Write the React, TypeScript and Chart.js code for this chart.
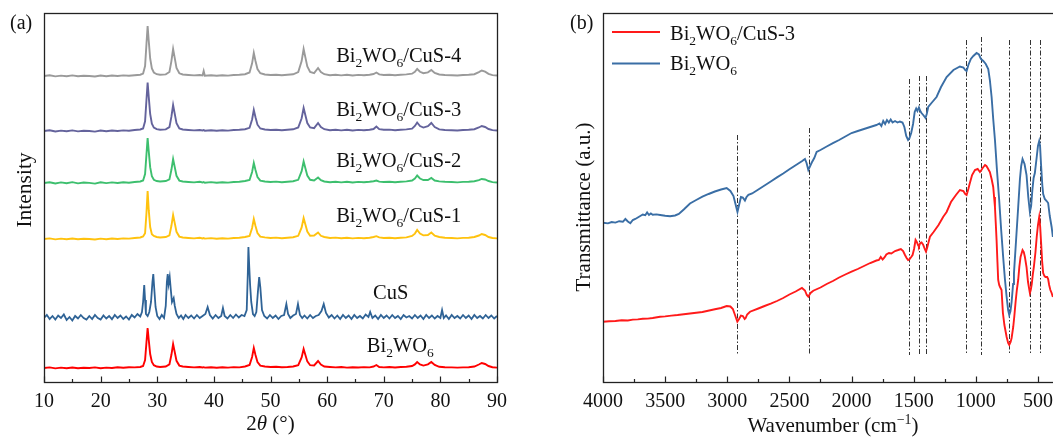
import React, { useEffect, useRef } from "react";
import { Chart, registerables } from "chart.js";

Chart.register(...registerables);

const FONT = "'Liberation Serif', 'Times New Roman', Times, serif";

// ---------- Panel (a): XRD ----------
const twoTheta = [
  10, 11, 12, 13, 14, 15, 16, 17, 18, 19, 20, 21, 22, 23, 24, 25, 26, 27,
  27.5, 27.85, 28.1, 28.3, 28.5, 28.75, 29.05, 29.4, 29.9, 30.5, 31.5,
  32.15, 32.5, 32.8, 33.1, 33.4, 33.9, 34.5, 35.5, 36.5, 37.5,
  38.0, 38.2, 38.4, 39.5, 40.5, 41.5, 42.5, 43.5, 44.5, 45.5,
  46.3, 46.75, 47.05, 47.35, 47.7, 48.2, 49, 50, 51, 52,
  53, 54, 54.9, 55.5, 55.85, 56.15, 56.5, 57, 57.7, 58.4,
  58.9, 59.5, 60.5, 61.5, 62.5, 63.5, 64.5, 65.5, 66.5, 67.5,
  68.2, 68.7, 69.2, 70, 71, 72, 73, 74, 75, 75.5,
  75.9, 76.4, 77, 77.8, 78.4, 79, 79.8, 80.8, 82, 83,
  84, 85, 86, 86.8, 87.3, 87.9, 88.5, 89.2, 90,
];

const bwoIntensity = [
  14, 14.6, 13.6, 14.4, 13.8, 14.5, 13.7, 14.3, 14, 14.6, 13.8, 14.4, 14, 14.7, 14.2, 14.8, 14.6, 15,
  16, 22, 40, 54, 42, 28, 20, 16.8, 15.5, 15, 15.5,
  17.6, 27.2, 38, 29.6, 21.2, 16.4, 15.5, 15, 14.6, 15,
  14.5, 14.8, 14.4, 14.8, 14.3, 14.7, 14.4, 14.9, 14.6, 15.5,
  17, 25, 34, 27, 20, 16.4, 15.5, 15, 15.2, 14.8,
  15, 15.5, 16.8, 24.5, 33, 27.3, 20.6, 16.8, 16.5, 21,
  17.5, 15.5, 15, 14.6, 15, 14.4, 14.8, 14.5, 14.9, 14.6,
  15.5, 17, 15, 14.6, 15, 14.5, 15, 15.2, 16, 17.6,
  20, 17.6, 16.4, 17.6, 20, 17, 15.2, 14.8, 14.6, 14.4,
  14.6, 14.8, 15.5, 17.5, 19, 18, 16, 14.8, 14.4,
];

const cus1Intensity = [
  143, 143.6, 142.6, 143.4, 142.8, 143.5, 142.7, 143.3, 143, 142.5, 143.4, 142.8, 143.5, 143, 143.6, 143.4, 144, 144.5,
  145.5, 148.8, 169.4, 191, 171.8, 155, 147.8, 146, 145, 144.5, 145,
  146.6, 156.2, 167, 158.6, 150.2, 145.4, 144.5, 144, 143.6, 144.2,
  143.5, 143.9, 143.4, 143.9, 143.3, 143.8, 143.4, 144, 144.2, 145,
  146, 154, 163, 156, 149, 145.4, 144.6, 144, 144.4, 143.8,
  144.3, 144.8, 146.2, 154.6, 164, 157.7, 150.4, 146.2, 146.5, 149.5,
  146.2, 145, 144, 144.4, 143.8, 144.2, 143.6, 144.1, 143.7, 144.2,
  145, 145.8, 144.6, 144, 144.3, 143.8, 144.3, 144.6, 146, 148.4,
  152, 148.4, 146.6, 147, 149.5, 146.3, 145, 144.2, 144, 143.6,
  144.1, 144.2, 145, 146.5, 148, 147, 145, 144, 143.6,
];

const cus2Intensity = [
  199, 199.8, 198.5, 199.6, 198.8, 199.9, 198.6, 199.5, 199.1, 198.4, 199.7, 198.9, 199.6, 199, 199.8, 199.3, 200, 200.5,
  201.5, 208, 228, 244, 230.5, 214.8, 205.8, 202.2, 201, 200.5, 201,
  202.6, 212.2, 223, 214.6, 206.2, 201.4, 200.5, 200, 199.6, 200.2,
  199.5, 200, 199.3, 199.9, 199.2, 199.8, 199.4, 200, 200.2, 201,
  202, 210, 219, 212, 205, 201.4, 200.5, 200, 200.4, 199.8,
  200.3, 200.8, 202.2, 210.8, 220.5, 214, 206.5, 202.2, 201.5, 204.5,
  201.8, 200.5, 199.8, 200.3, 199.6, 200.2, 199.5, 200.1, 199.7, 200.2,
  200.8, 201.5, 200.4, 200, 200.3, 199.7, 200.3, 200.6, 201.5, 203.5,
  206.5, 203.5, 202, 202, 204, 201.5, 200.6, 200.2, 200, 199.6,
  200.1, 200.3, 200.8, 201.8, 203, 202.5, 201, 199.9, 199.5,
];

const cus3Intensity = [
  251, 251.7, 250.5, 251.4, 250.8, 251.6, 250.6, 251.3, 251, 250.4, 251.5, 250.8, 251.5, 251, 251.6, 251.2, 252, 252.5,
  253.5, 260.7, 282.5, 299.5, 285, 268, 258.3, 254.4, 252.8, 252.2, 252.6,
  254.9, 265.3, 277, 267.9, 258.8, 253.6, 252.5, 252, 251.6, 252,
  251.5, 251.9, 251.3, 251.8, 251.2, 251.8, 251.4, 252, 252.2, 252.8,
  254.2, 262.5, 272, 264.7, 257.3, 253.5, 252.5, 252, 252.3, 251.8,
  252.2, 252.7, 254.5, 263.7, 274, 267.1, 259, 254.5, 253.8, 259,
  255, 252.8, 251.8, 252.3, 251.6, 252.2, 251.5, 252.1, 251.7, 252.3,
  253, 255.5, 252.8, 252.2, 252.4, 251.8, 252.3, 252.6, 253.3, 256,
  259.5, 256, 254.4, 255.8, 259, 255, 252.6, 252, 251.8, 251.5,
  252, 252.2, 252.8, 254.5, 256, 255, 253, 251.9, 251.5,
];

const cus4Intensity = [
  306, 306.7, 305.6, 306.4, 305.8, 306.6, 305.7, 306.3, 306, 305.5, 306.5, 305.8, 306.5, 306, 306.6, 306.2, 306.8, 307.3,
  308.5, 316, 338.5, 356, 341, 323.5, 313.5, 309.5, 307.8, 307.2, 307.6,
  310, 320.9, 333, 323.6, 314.1, 308.7, 307.5, 307, 306.6, 307,
  306.5, 311, 306.3, 306.8, 306.2, 306.8, 306.4, 307, 307.2, 307.8,
  309.5, 318.7, 329, 321, 312.9, 308.8, 307.5, 307, 307.3, 306.8,
  307.2, 307.7, 310, 320.9, 333, 324.9, 315.5, 310, 308.8, 314,
  310, 307.8, 306.8, 307.3, 306.6, 307.2, 306.5, 307.1, 306.7, 307.3,
  308, 309.5, 307.6, 307, 307.3, 306.8, 307.3, 307.6, 308.3, 310.2,
  313, 310.2, 308.8, 309.6, 312, 309, 307.5, 307, 306.8, 306.5,
  307, 307.2, 307.8, 309.9, 311.5, 310.4, 308.2, 306.9, 306.5,
];

const cusPattern: [number, number][] = [
  [10, 64], [10.5, 67], [11, 63], [11.5, 66], [12, 62.5], [12.5, 66.5], [13, 64], [13.5, 67.5], [14, 62], [14.5, 65],
  [15, 61.5], [15.5, 66], [16, 63.5], [16.5, 67], [17, 64], [17.5, 62.5], [18, 66], [18.5, 63], [19, 67], [19.5, 64],
  [20, 62.5], [20.5, 66.5], [21, 63.5], [21.5, 66], [22, 62.8], [22.5, 67], [23, 64], [23.5, 66.5], [24, 63], [24.5, 65.5],
  [25, 62.5], [25.5, 67], [26, 64.5], [26.5, 68], [27, 65.5], [27.3, 70], [27.5, 80], [27.7, 97], [27.85, 82], [28.0, 68],
  [28.3, 66], [28.6, 70], [28.9, 80], [29.15, 100], [29.3, 108], [29.45, 95], [29.7, 75], [30.0, 66], [30.4, 63], [30.8, 67],
  [31.2, 64], [31.5, 76], [31.7, 100], [31.85, 108], [32.0, 98], [32.2, 105], [32.4, 92], [32.6, 80], [32.9, 84], [33.1, 76],
  [33.4, 68], [33.8, 64], [34.2, 66.5], [34.6, 63], [35, 67], [35.5, 64], [36, 66.5], [36.5, 63.5], [37, 67], [37.5, 64],
  [38, 66], [38.5, 68], [38.9, 75], [39.3, 67], [39.8, 63.5], [40.3, 67], [40.8, 64], [41.3, 66], [41.6, 74], [41.9, 66],
  [42.4, 63.5], [42.9, 67], [43.4, 64], [43.9, 67.5], [44.4, 64.5], [44.9, 67], [45.4, 66], [45.8, 72], [46.0, 110], [46.1, 135],
  [46.25, 115], [46.4, 97], [46.6, 80], [46.9, 68], [47.2, 66], [47.5, 70], [47.8, 92], [48.0, 105], [48.2, 95], [48.5, 72],
  [48.9, 66], [49.4, 63.5], [49.9, 67], [50.4, 64], [50.9, 66.5], [51.4, 63], [51.9, 66], [52.4, 67], [52.8, 78], [53.1, 68],
  [53.5, 64], [54, 66.5], [54.5, 68], [54.85, 78], [55.2, 67], [55.6, 64], [56, 66.5], [56.5, 63.5], [57, 67], [57.5, 64],
  [58, 66], [58.5, 67], [59.0, 71], [59.4, 78], [59.8, 69], [60.3, 64.5], [60.8, 67], [61.3, 63.5], [61.8, 66.5], [62.3, 63],
  [62.8, 67], [63.3, 64], [63.8, 66.5], [64.3, 63], [64.8, 67], [65.3, 64], [65.8, 66], [66.3, 63.5], [66.8, 67.5], [67.3, 65],
  [67.6, 70], [68, 64], [68.5, 66.5], [69, 63], [69.5, 67], [70, 64], [70.5, 66.5], [71, 63.5], [71.5, 67], [72, 64],
  [72.5, 66], [73, 63], [73.5, 67], [74, 64.5], [74.5, 66], [75, 63.5], [75.5, 67], [76, 64], [76.5, 66.5], [77, 63],
  [77.5, 67], [78, 64], [78.5, 66.5], [79, 63.5], [79.5, 66], [80, 64], [80.3, 72], [80.6, 64], [81, 66.5], [81.5, 63],
  [82, 67], [82.5, 64], [83, 66], [83.5, 63.5], [84, 67], [84.5, 64], [85, 66.5], [85.5, 63], [86, 67], [86.5, 64],
  [87, 66], [87.5, 63.5], [88, 67], [88.5, 64], [89, 66.5], [89.5, 63.5], [90, 66],
];

const xrdTicks = [10, 20, 30, 40, 50, 60, 70, 80, 90];
const xrdMinorTicks = [15, 25, 35, 45, 55, 65, 75, 85];

// ---------- Panel (b): FTIR ----------
const ftirBwo: [number, number][] = [
  [4000, 159.3], [3960, 158.6], [3930, 160], [3900, 159.4], [3870, 160.8], [3840, 160.2], [3820, 163], [3800, 160.5],
  [3780, 158.8], [3760, 162], [3740, 163], [3720, 164.5], [3700, 166], [3680, 167.5], [3660, 166.8], [3645, 169.5],
  [3630, 167], [3615, 168.5], [3600, 167.2], [3570, 167.6], [3540, 167], [3500, 166.2], [3460, 165.8], [3420, 166.5],
  [3390, 168], [3350, 172.5], [3300, 178.5], [3250, 182], [3200, 185.3], [3150, 188], [3100, 190.5], [3050, 192.5],
  [3005, 194], [2975, 191], [2950, 186], [2930, 176], [2918, 170], [2905, 177], [2890, 185], [2875, 184.5],
  [2858, 181.5], [2845, 185], [2830, 187.2], [2800, 188.5], [2750, 192.5], [2700, 196.5], [2650, 200.5], [2600, 204.6],
  [2550, 208.5], [2500, 212.7], [2450, 216.8], [2400, 220.8], [2375, 223], [2362, 219], [2348, 212], [2335, 215.5],
  [2320, 219.5], [2300, 224], [2281, 230], [2250, 232], [2200, 235.5], [2150, 238.8], [2100, 242], [2050, 245.5],
  [2000, 249], [1950, 251], [1900, 253], [1850, 255], [1800, 257], [1775, 258.5], [1760, 256], [1745, 261],
  [1730, 258], [1715, 262], [1700, 259.5], [1685, 262.5], [1670, 259.5], [1650, 261], [1630, 259.5], [1611, 260.5],
  [1590, 259.5], [1575, 255], [1560, 246], [1545, 242], [1535, 243.5], [1520, 249], [1505, 258], [1492, 270],
  [1480, 273.5], [1470, 271], [1458, 274.5], [1447, 271], [1437, 269], [1420, 266.5], [1405, 264], [1395, 268],
  [1383, 275], [1350, 280], [1316, 285], [1280, 295], [1235, 305], [1180, 312], [1128, 315.5], [1100, 314.5],
  [1085, 312], [1074, 311], [1060, 317], [1040, 323], [1020, 326], [994, 329], [975, 327.5], [959, 323],
  [940, 321], [920, 318], [900, 313], [887, 302], [873, 285], [860, 263], [846, 242], [830, 212],
  [812, 182], [796, 152], [780, 125], [766, 103], [752, 85], [740, 72], [731, 67], [721, 71],
  [712, 80], [700, 98], [693, 109], [676, 142], [659, 175], [645, 203], [635, 216], [624, 223],
  [608, 218], [592, 207], [578, 185], [565, 170], [555, 176], [545, 192], [535, 204], [525, 209],
  [510, 225], [500, 236], [490, 241], [483, 236], [475, 217], [465, 197], [458, 188], [445, 183],
  [430, 181], [418, 179], [405, 166], [390, 155], [380, 145],
];

const ftirComposite: [number, number][] = [
  [4000, 60.3], [3950, 60.8], [3900, 61], [3850, 61.8], [3800, 61.5], [3760, 62.4], [3720, 62.6], [3680, 63.2],
  [3640, 63.4], [3600, 64], [3541, 65.3], [3500, 65.6], [3450, 66.4], [3400, 67], [3300, 68.5], [3200, 70],
  [3100, 72.8], [3050, 74], [3005, 76], [2975, 75.5], [2955, 73], [2935, 66], [2919, 60.3], [2905, 63],
  [2890, 66.5], [2875, 66], [2860, 63], [2852, 64], [2840, 67.5], [2817, 70.3], [2750, 73.5], [2700, 76],
  [2650, 78.3], [2600, 81], [2550, 84], [2500, 87.5], [2450, 90.5], [2399, 94], [2375, 91.5], [2360, 87],
  [2348, 85.3], [2330, 89], [2308, 91.3], [2250, 94.5], [2200, 98], [2150, 101], [2100, 104.5], [2050, 107.5],
  [2000, 110.3], [1950, 113], [1900, 116], [1850, 119], [1800, 121.5], [1780, 122], [1765, 125], [1750, 122.5],
  [1735, 124.5], [1720, 127.5], [1699, 129], [1680, 128.5], [1650, 131], [1625, 132], [1603, 133], [1585, 131],
  [1570, 127], [1557, 124], [1545, 122], [1535, 122.5], [1520, 125], [1509, 127], [1497, 133], [1485, 142],
  [1475, 140], [1465, 137], [1458, 135.5], [1447, 139], [1437, 139.5], [1425, 137.5], [1410, 133], [1401, 130.5],
  [1392, 134], [1380, 140], [1369, 145.3], [1340, 150], [1300, 157], [1262, 165.3], [1235, 170], [1200, 180],
  [1160, 187], [1128, 192], [1100, 191], [1085, 188], [1074, 187], [1060, 193], [1050, 198], [1030, 207],
  [1007, 212], [985, 213], [967, 210], [955, 212], [945, 214], [926, 217], [915, 216], [905, 214],
  [887, 210], [873, 203], [860, 195], [853, 185], [846, 175], [840, 160], [833, 142], [826, 120],
  [820, 102], [812, 97], [805, 95], [793, 92], [782, 69], [770, 57], [752, 45], [740, 39],
  [731, 37], [720, 40], [712, 44], [699, 55], [690, 66], [680, 80], [670, 92], [659, 102],
  [650, 115], [640, 125], [624, 132], [614, 130], [605, 125], [592, 115], [580, 100], [565, 89],
  [558, 92], [550, 98], [541, 108], [533, 115], [520, 130], [510, 145], [500, 157], [490, 165],
  [482, 155], [475, 140], [466, 120], [458, 109], [448, 106], [440, 105], [426, 105], [418, 103],
  [410, 97], [400, 92], [390, 89], [380, 85],
];

const ftirTicks = [4000, 3500, 3000, 2500, 2000, 1500, 1000, 500];
const ftirMinorTicks = [3750, 3250, 2750, 2250, 1750, 1250, 750];
const bandCenters = [2920, 2345, 1538, 1458, 1401, 1080, 959, 730, 565, 484];
const bandTops = [247, 254, 303, 306, 306, 342, 345, 342, 342, 342];
const bandBottom = 27;

// ---------- text helpers ----------
type Seg = { t: string; k?: "sub" | "sup" | "it" };

function segFont(s: Seg, size: number) {
  if (s.k === "sub" || s.k === "sup") return `${(size * 0.66).toFixed(1)}px ${FONT}`;
  if (s.k === "it") return `italic ${size}px ${FONT}`;
  return `${size}px ${FONT}`;
}

function drawRich(ctx: CanvasRenderingContext2D, segs: Seg[], x: number, y: number, size: number, align: "left" | "center") {
  let w = 0;
  for (const s of segs) {
    ctx.font = segFont(s, size);
    w += ctx.measureText(s.t).width;
  }
  let cx = align === "center" ? x - w / 2 : x;
  ctx.textAlign = "left";
  ctx.textBaseline = "alphabetic";
  for (const s of segs) {
    ctx.font = segFont(s, size);
    const dy = s.k === "sub" ? size * 0.24 : s.k === "sup" ? -size * 0.4 : 0;
    ctx.fillText(s.t, cx, y + dy);
    cx += ctx.measureText(s.t).width;
  }
}

const bwoSegs: Seg[] = [{ t: "Bi" }, { t: "2", k: "sub" }, { t: "WO" }, { t: "6", k: "sub" }];
const compSegs = (n: string): Seg[] => [...bwoSegs, { t: "/CuS-" + n }];

function drawFrame(chart: any, major: number[], minor: number[]) {
  const { ctx, chartArea: a, scales } = chart;
  const x = scales.x;
  ctx.save();
  ctx.strokeStyle = "#222";
  ctx.lineWidth = 1.3;
  const l = Math.round(a.left) + 0.5, t = Math.round(a.top) + 0.5;
  const r = Math.round(a.right) + 0.5, b = Math.round(a.bottom) + 0.5;
  ctx.strokeRect(l, t, r - l, b - t);
  ctx.lineWidth = 1.2;
  ctx.beginPath();
  for (const v of major) {
    const px = Math.round(x.getPixelForValue(v)) + 0.5;
    ctx.moveTo(px, b);
    ctx.lineTo(px, b - 6);
  }
  for (const v of minor) {
    const px = Math.round(x.getPixelForValue(v)) + 0.5;
    ctx.moveTo(px, b);
    ctx.lineTo(px, b - 3.5);
  }
  ctx.stroke();
  ctx.fillStyle = "#111";
  ctx.font = `20px ${FONT}`;
  ctx.textAlign = "center";
  ctx.textBaseline = "alphabetic";
  for (const v of major) ctx.fillText(String(v), x.getPixelForValue(v), b + 24);
  ctx.restore();
}

function drawYTitle(ctx: CanvasRenderingContext2D, segs: Seg[], x: number, y: number, size: number) {
  ctx.save();
  ctx.translate(x, y);
  ctx.rotate(-Math.PI / 2);
  drawRich(ctx, segs, 0, 0, size, "center");
  ctx.restore();
}

const xrdLabels: { segs: Seg[]; x: number; y: number }[] = [
  { segs: compSegs("4"), x: 61.6, y: 320 },
  { segs: compSegs("3"), x: 61.6, y: 266 },
  { segs: compSegs("2"), x: 61.6, y: 215 },
  { segs: compSegs("1"), x: 61.6, y: 160 },
  { segs: [{ t: "CuS" }], x: 68.1, y: 83 },
  { segs: bwoSegs, x: 67.0, y: 30 },
];

const xrdPlugin = {
  id: "xrdDecor",
  afterDraw(chart: any) {
    const { ctx, chartArea: a, scales } = chart;
    drawFrame(chart, xrdTicks, xrdMinorTicks);
    ctx.save();
    ctx.fillStyle = "#111";
    for (const lb of xrdLabels) {
      drawRich(ctx, lb.segs, scales.x.getPixelForValue(lb.x), scales.y.getPixelForValue(lb.y), 20.5, "left");
    }
    drawRich(ctx, [{ t: "(a)" }], 10, 29, 20, "left");
    drawRich(ctx, [{ t: "2" }, { t: "θ", k: "it" }, { t: " (°)" }], (a.left + a.right) / 2, a.bottom + 48, 21, "center");
    drawYTitle(ctx, [{ t: "Intensity" }], 31, 190, 21.5);
    ctx.restore();
  },
};

const ftirPlugin = {
  id: "ftirDecor",
  beforeDatasetsDraw(chart: any) {
    const { ctx, scales } = chart;
    ctx.save();
    ctx.strokeStyle = "#333";
    ctx.lineWidth = 1;
    ctx.setLineDash([5, 2, 1.5, 2]);
    bandCenters.forEach((w, i) => {
      const px = Math.round(scales.x.getPixelForValue(w)) + 0.5;
      ctx.beginPath();
      ctx.moveTo(px, scales.y.getPixelForValue(bandTops[i]));
      ctx.lineTo(px, scales.y.getPixelForValue(bandBottom));
      ctx.stroke();
    });
    ctx.restore();
  },
  afterDraw(chart: any) {
    const { ctx, chartArea: a } = chart;
    drawFrame(chart, ftirTicks, ftirMinorTicks);
    ctx.save();
    ctx.fillStyle = "#111";
    drawRich(ctx, [{ t: "(b)" }], 30, 29, 20, "left");
    // legend
    ctx.lineWidth = 2;
    ctx.strokeStyle = "#ff1a1a";
    ctx.beginPath();
    ctx.moveTo(72, 32);
    ctx.lineTo(120, 32);
    ctx.stroke();
    ctx.strokeStyle = "#3a6ea5";
    ctx.beginPath();
    ctx.moveTo(72, 63.5);
    ctx.lineTo(120, 63.5);
    ctx.stroke();
    drawRich(ctx, compSegs("3"), 130, 40, 20.5, "left");
    drawRich(ctx, bwoSegs, 130, 70, 20.5, "left");
    drawRich(ctx, [{ t: "Wavenumber (cm" }, { t: "−1", k: "sup" }, { t: ")" }], 293, a.bottom + 50, 21, "center");
    drawYTitle(ctx, [{ t: "Transmittance (a.u.)" }], 50, 207, 21);
    ctx.restore();
  },
};

function lineDs(data: { x: number; y: number }[], color: string, width = 1.9) {
  return {
    data,
    borderColor: color,
    backgroundColor: color,
    borderWidth: width,
    pointRadius: 0,
    tension: 0,
    fill: false,
  };
}

const fromGrid = (ys: number[]) => twoTheta.map((x, i) => ({ x, y: ys[i] }));
const fromPairs = (p: [number, number][]) => p.map(([x, y]) => ({ x, y }));

export default function App() {
  const refA = useRef<HTMLCanvasElement>(null);
  const refB = useRef<HTMLCanvasElement>(null);

  useEffect(() => {
    const common = {
      animation: false as const,
      responsive: false,
      devicePixelRatio: 1,
      events: [] as any[],
      plugins: { legend: { display: false }, tooltip: { enabled: false }, title: { display: false } },
    };
    const chartA = new Chart(refA.current!, {
      type: "line",
      data: {
        datasets: [
          lineDs(fromGrid(bwoIntensity), "#ff0000"),
          lineDs(fromPairs(cusPattern), "#2f6396", 1.8),
          lineDs(fromGrid(cus1Intensity), "#ffc20e"),
          lineDs(fromGrid(cus2Intensity), "#3dbf6e"),
          lineDs(fromGrid(cus3Intensity), "#64639c"),
          lineDs(fromGrid(cus4Intensity), "#9a9a9a"),
        ],
      },
      options: {
        ...common,
        layout: { padding: { left: 44, top: 13, right: 43, bottom: 57 } },
        scales: {
          x: { type: "linear", min: 10, max: 90, display: false },
          y: { type: "linear", min: 0, max: 369, display: false },
        },
      },
      plugins: [xrdPlugin],
    } as any);

    const chartB = new Chart(refB.current!, {
      type: "line",
      data: {
        datasets: [
          lineDs(fromPairs(ftirBwo), "#3a6ea5", 1.9),
          lineDs(fromPairs(ftirComposite), "#ff1a1a", 1.9),
        ],
      },
      options: {
        ...common,
        layout: { padding: { left: 63, top: 13, right: 13.4, bottom: 57 } },
        scales: {
          x: { type: "linear", min: 350, max: 4000, reverse: true, display: false },
          y: { type: "linear", min: 0, max: 369, display: false },
        },
      },
      plugins: [ftirPlugin],
    } as any);

    return () => {
      chartA.destroy();
      chartB.destroy();
    };
  }, []);

  return (
    <div
      style={{
        position: "fixed",
        left: 0,
        top: 0,
        width: 1053,
        height: 439,
        overflow: "hidden",
        background: "#fff",
      }}
    >
      <canvas
        ref={refA}
        width={540}
        height={439}
        style={{ position: "absolute", left: 0, top: 0, width: 540, height: 439 }}
      />
      <canvas
        ref={refB}
        width={530}
        height={439}
        style={{ position: "absolute", left: 540, top: 0, width: 530, height: 439 }}
      />
    </div>
  );
}
